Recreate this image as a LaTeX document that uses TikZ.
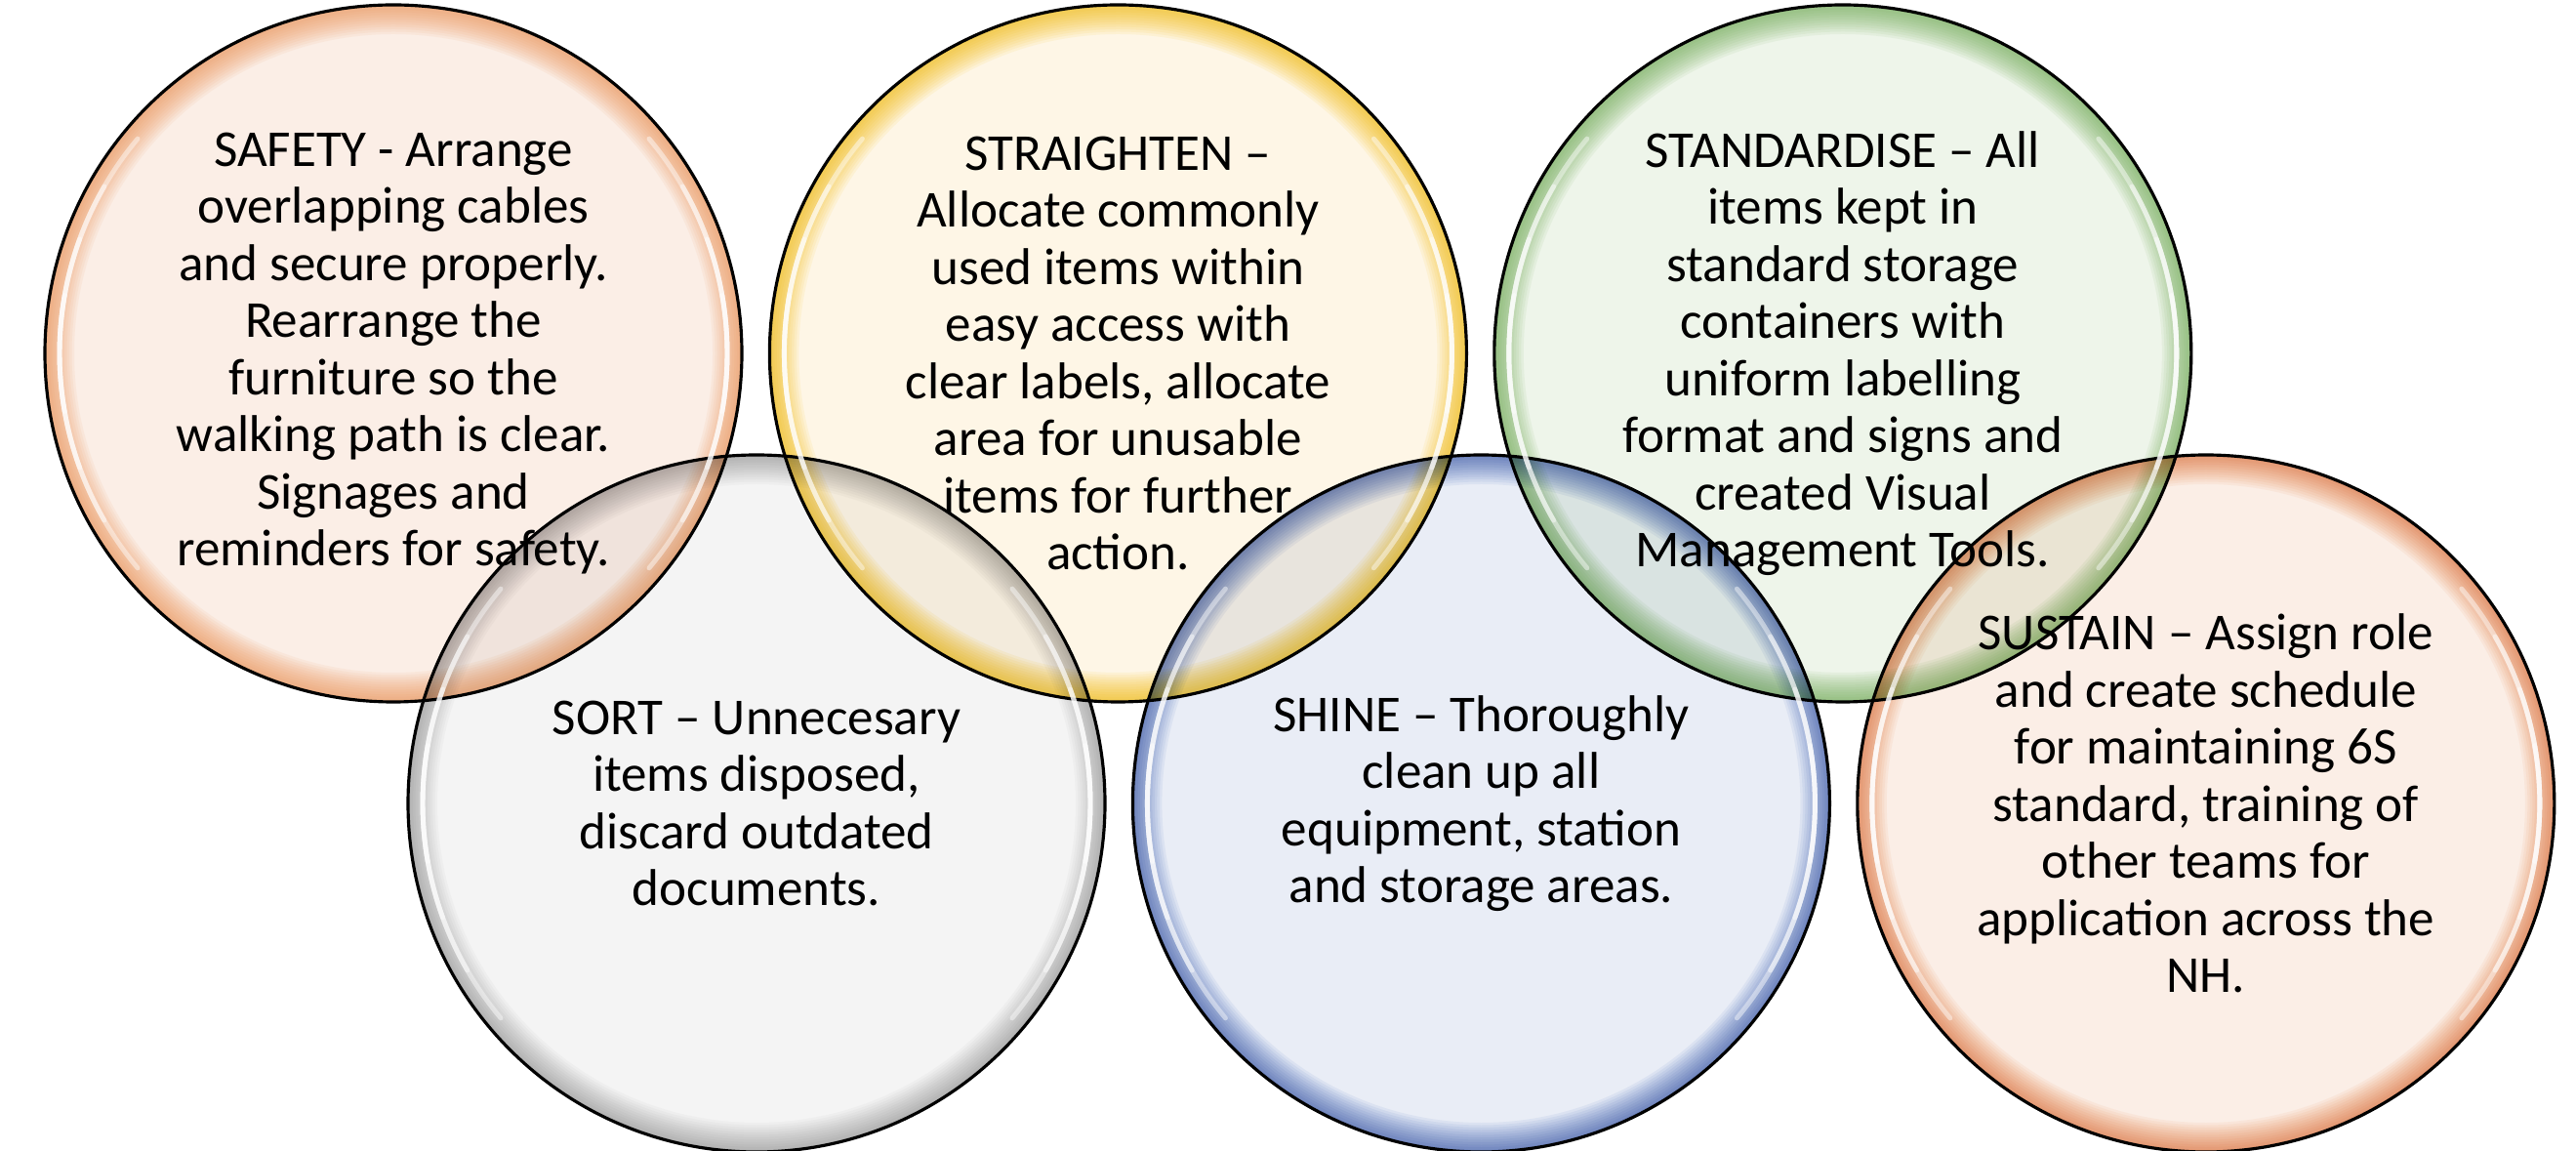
\documentclass[tikz,border=0pt]{standalone}
\usepackage{fontspec}
\setmainfont{Carlito}
\usetikzlibrary{positioning}

\definecolor{peachfill}{HTML}{FBEEE6}
\definecolor{peachrim}{HTML}{EC8F50}
\definecolor{goldfill}{HTML}{FEF6E6}
\definecolor{goldrim}{HTML}{F2B800}
\definecolor{greenfill}{HTML}{EEF5EA}
\definecolor{greenrim}{HTML}{6AA84F}
\definecolor{greyfill}{HTML}{F4F4F4}
\definecolor{greyrim}{HTML}{B2B2B2}
\definecolor{bluefill}{HTML}{E9EDF6}
\definecolor{bluerim}{HTML}{4A70C0}

\begin{document}
\begin{tikzpicture}[node distance=2.7mm,
  bubble/.style={circle,minimum size=7.14cm,inner sep=0pt,align=center,
    font=\fontsize{15.1}{16.65}\selectfont},
  outline/.style={black,line width=0.9pt},
  gloss/.style={white,line width=1.4pt,opacity=0.45,line cap=round}]
\useasboundingbox (0,0) rectangle (26.39,-11.79);

% top row
\node[bubble,fill=peachfill] (safety) at (4.03,-3.62) {SAFETY - Arrange\\overlapping cables\\and secure properly.\\Rearrange the\\furniture so the\\walking path is clear.\\Signages and\\reminders for safety.};
\node[bubble,fill=goldfill,right=of safety] (straighten) {STRAIGHTEN --\\Allocate commonly\\used items within\\easy access with\\clear labels, allocate\\area for unusable\\items for further\\action.};
\node[bubble,fill=greenfill,right=of straighten] (standardise) {STANDARDISE -- All\\items kept in\\standard storage\\containers with\\uniform labelling\\format and signs and\\created Visual\\Management Tools.};
\foreach \n/\c in {safety/peachrim,straighten/goldrim,standardise/greenrim} {
  \begin{scope}
    \clip (\n.center) circle (3.57);
    \foreach \w in {1,...,12}
      \draw[\c,line width=\w*0.5mm,opacity=0.08] (\n.center) circle (3.57);
  \end{scope}
  \draw[outline] (\n.center) circle (3.57);
}

% bottom row, laid over the top one
\begin{scope}[blend mode=multiply]
\node[bubble,fill=greyfill] (sort) at (7.75,-8.23) {SORT -- Unnecesary\\items disposed,\\discard outdated\\documents.};
\node[bubble,fill=bluefill,right=of sort] (shine) {SHINE -- Thoroughly\\clean up all\\equipment, station\\and storage areas.};
\node[bubble,fill=peachfill,right=of shine] (sustain) {SUSTAIN -- Assign role\\and create schedule\\for maintaining 6S\\standard, training of\\other teams for\\application across the\\NH.};
\foreach \n/\c in {sort/greyrim,shine/bluerim,sustain/peachrim} {
  \begin{scope}
    \clip (\n.center) circle (3.57);
    \foreach \w in {1,...,12}
      \draw[\c,line width=\w*0.5mm,opacity=0.08] (\n.center) circle (3.57);
  \end{scope}
  \draw[outline] (\n.center) circle (3.57);
}
\end{scope}

% glossy streaks on both sides
\foreach \n in {safety,straighten,standardise,sort,shine,sustain}
  \foreach \a in {10,20,30,40} {
    \draw[gloss] (\n.center) ++(180-\a:3.42) arc[start angle=180-\a,end angle=180+\a,radius=3.42];
    \draw[gloss] (\n.center) ++(-\a:3.42) arc[start angle=-\a,end angle=\a,radius=3.42];
  }
\end{tikzpicture}
\end{document}
